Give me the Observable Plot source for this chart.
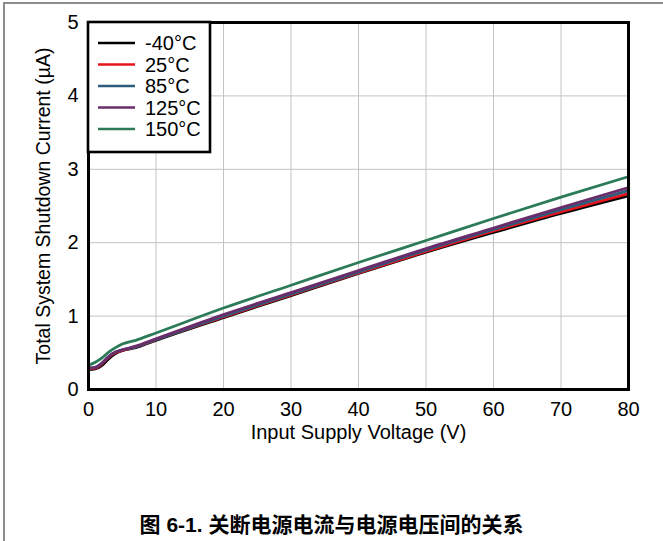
<!DOCTYPE html>
<html><head><meta charset="utf-8">
<script src="https://cdn.jsdelivr.net/npm/d3@7"></script>
<script src="https://cdn.jsdelivr.net/npm/@observablehq/plot@0.6"></script>
<style>
body{margin:0;background:#fff;}
#wrap{position:relative;width:663px;height:541px;overflow:hidden;background:#fff;font-family:"Liberation Sans",Arial,sans-serif;}
#bt{position:absolute;left:4px;top:2px;width:670px;height:0;border-top:2px solid #8c8c8c;}
#bl{position:absolute;left:3px;top:2px;width:0;height:560px;border-left:2px solid #8c8c8c;}
#chart{position:absolute;left:0;top:0;}
#cap{position:absolute;left:0;width:663px;top:508px;text-align:center;font-weight:bold;font-size:21px;color:#000;font-family:"Liberation Sans",Arial,"Noto Sans CJK SC",sans-serif;}
</style></head>
<body><div id="wrap"><div id="bt"></div><div id="bl"></div><div id="chart"></div><div id="cap"></div></div>
<script>
const voltages = [0, 1, 2, 3, 4, 5, 7, 10, 20, 30, 40, 50, 60, 70, 80];
const temps = ["-40°C", "25°C", "85°C", "125°C", "150°C"];
const tempColors = ["#000000", "#e8141b", "#2d5b7b", "#6a2c6a", "#2b7a58"];
const iM40  = [0.27, 0.28, 0.33, 0.42, 0.49, 0.53, 0.57, 0.67, 0.98, 1.28, 1.58, 1.87, 2.14, 2.40, 2.64];
const i25   = [0.28, 0.29, 0.35, 0.44, 0.50, 0.53, 0.58, 0.68, 0.99, 1.29, 1.59, 1.88, 2.16, 2.42, 2.67];
const i85   = [0.29, 0.30, 0.36, 0.45, 0.51, 0.54, 0.58, 0.68, 1.00, 1.30, 1.60, 1.90, 2.18, 2.45, 2.71];
const i125  = [0.29, 0.30, 0.36, 0.45, 0.51, 0.54, 0.59, 0.69, 1.02, 1.32, 1.62, 1.92, 2.20, 2.48, 2.75];
const i150  = [0.33, 0.37, 0.43, 0.51, 0.57, 0.62, 0.67, 0.77, 1.11, 1.42, 1.73, 2.03, 2.33, 2.62, 2.90];
const xTicks = [0, 10, 20, 30, 40, 50, 60, 70, 80];
const yTicks = [0, 1, 2, 3, 4, 5];
const xLabel = "Input Supply Voltage (V)";
const yLabel = "Total System Shutdown Current (µA)";
const caption = "图 6-1. 关断电源电流与电源电压间的关系";

const seriesVals = [iM40, i25, i85, i125, i150];
const rows = [];
temps.forEach((t, k) => voltages.forEach((v, i) => rows.push({temp: t, v, i: seriesVals[k][i]})));

const plot = Plot.plot({
  width: 663, height: 455,
  marginLeft: 88, marginRight: 35, marginTop: 22, marginBottom: 66,
  style: {fontFamily: "'Liberation Sans', Arial, sans-serif", fontSize: "20px", color: "#000", background: "transparent"},
  x: {domain: [0, 80]},
  y: {domain: [0, 5]},
  color: {domain: temps, range: tempColors},
  marks: [
    Plot.gridX(xTicks, {stroke: "#c4c4c4", strokeOpacity: 1, strokeWidth: 1}),
    Plot.gridY(yTicks, {stroke: "#c4c4c4", strokeOpacity: 1, strokeWidth: 1}),
    Plot.axisX(xTicks, {tickSize: 0, tickPadding: 12, fontSize: 20, label: null, tickFormat: d3.format("d")}),
    Plot.axisY(yTicks, {tickSize: 0, tickPadding: 10, fontSize: 20, label: null, tickFormat: d3.format("d")}),
    Plot.text([xLabel], {frameAnchor: "bottom", dy: 49, fontSize: 20, textAnchor: "middle", text: d => d}),
    Plot.text([yLabel], {frameAnchor: "left", dx: -45, rotate: -90, fontSize: 19.5, textAnchor: "middle", text: d => d}),
    Plot.line(rows, {x: "v", y: "i", z: "temp", stroke: "temp", strokeWidth: 2.8, curve: "monotone-x"}),
    Plot.frame({stroke: "#000", strokeWidth: 3})
  ]
});
document.getElementById("chart").appendChild(plot);
document.getElementById("cap").textContent = caption;

// legend inside plot area, built from the color scale
const color = plot.scale("color");
const svg = d3.select(plot);
const xs = plot.scale("x"), ys = plot.scale("y");
const x0 = xs.apply(0), y0 = ys.apply(5);
const g = svg.append("g").attr("text-anchor", "start");
g.append("rect").attr("x", x0).attr("y", y0).attr("width", 122).attr("height", 130)
  .attr("fill", "#fff").attr("stroke", "#000").attr("stroke-width", 2.6);
color.domain.forEach((t, k) => {
  const yy = y0 + 21 + k * 21.5;
  g.append("line").attr("x1", x0 + 10).attr("x2", x0 + 47).attr("y1", yy).attr("y2", yy)
    .attr("stroke", color.range[k]).attr("stroke-width", 2.6);
  g.append("text").attr("x", x0 + 57).attr("y", yy).attr("dy", "0.35em").attr("text-anchor", "start")
    .attr("font-size", 20).attr("fill", "#000").text(t);
});
</script></body></html>
